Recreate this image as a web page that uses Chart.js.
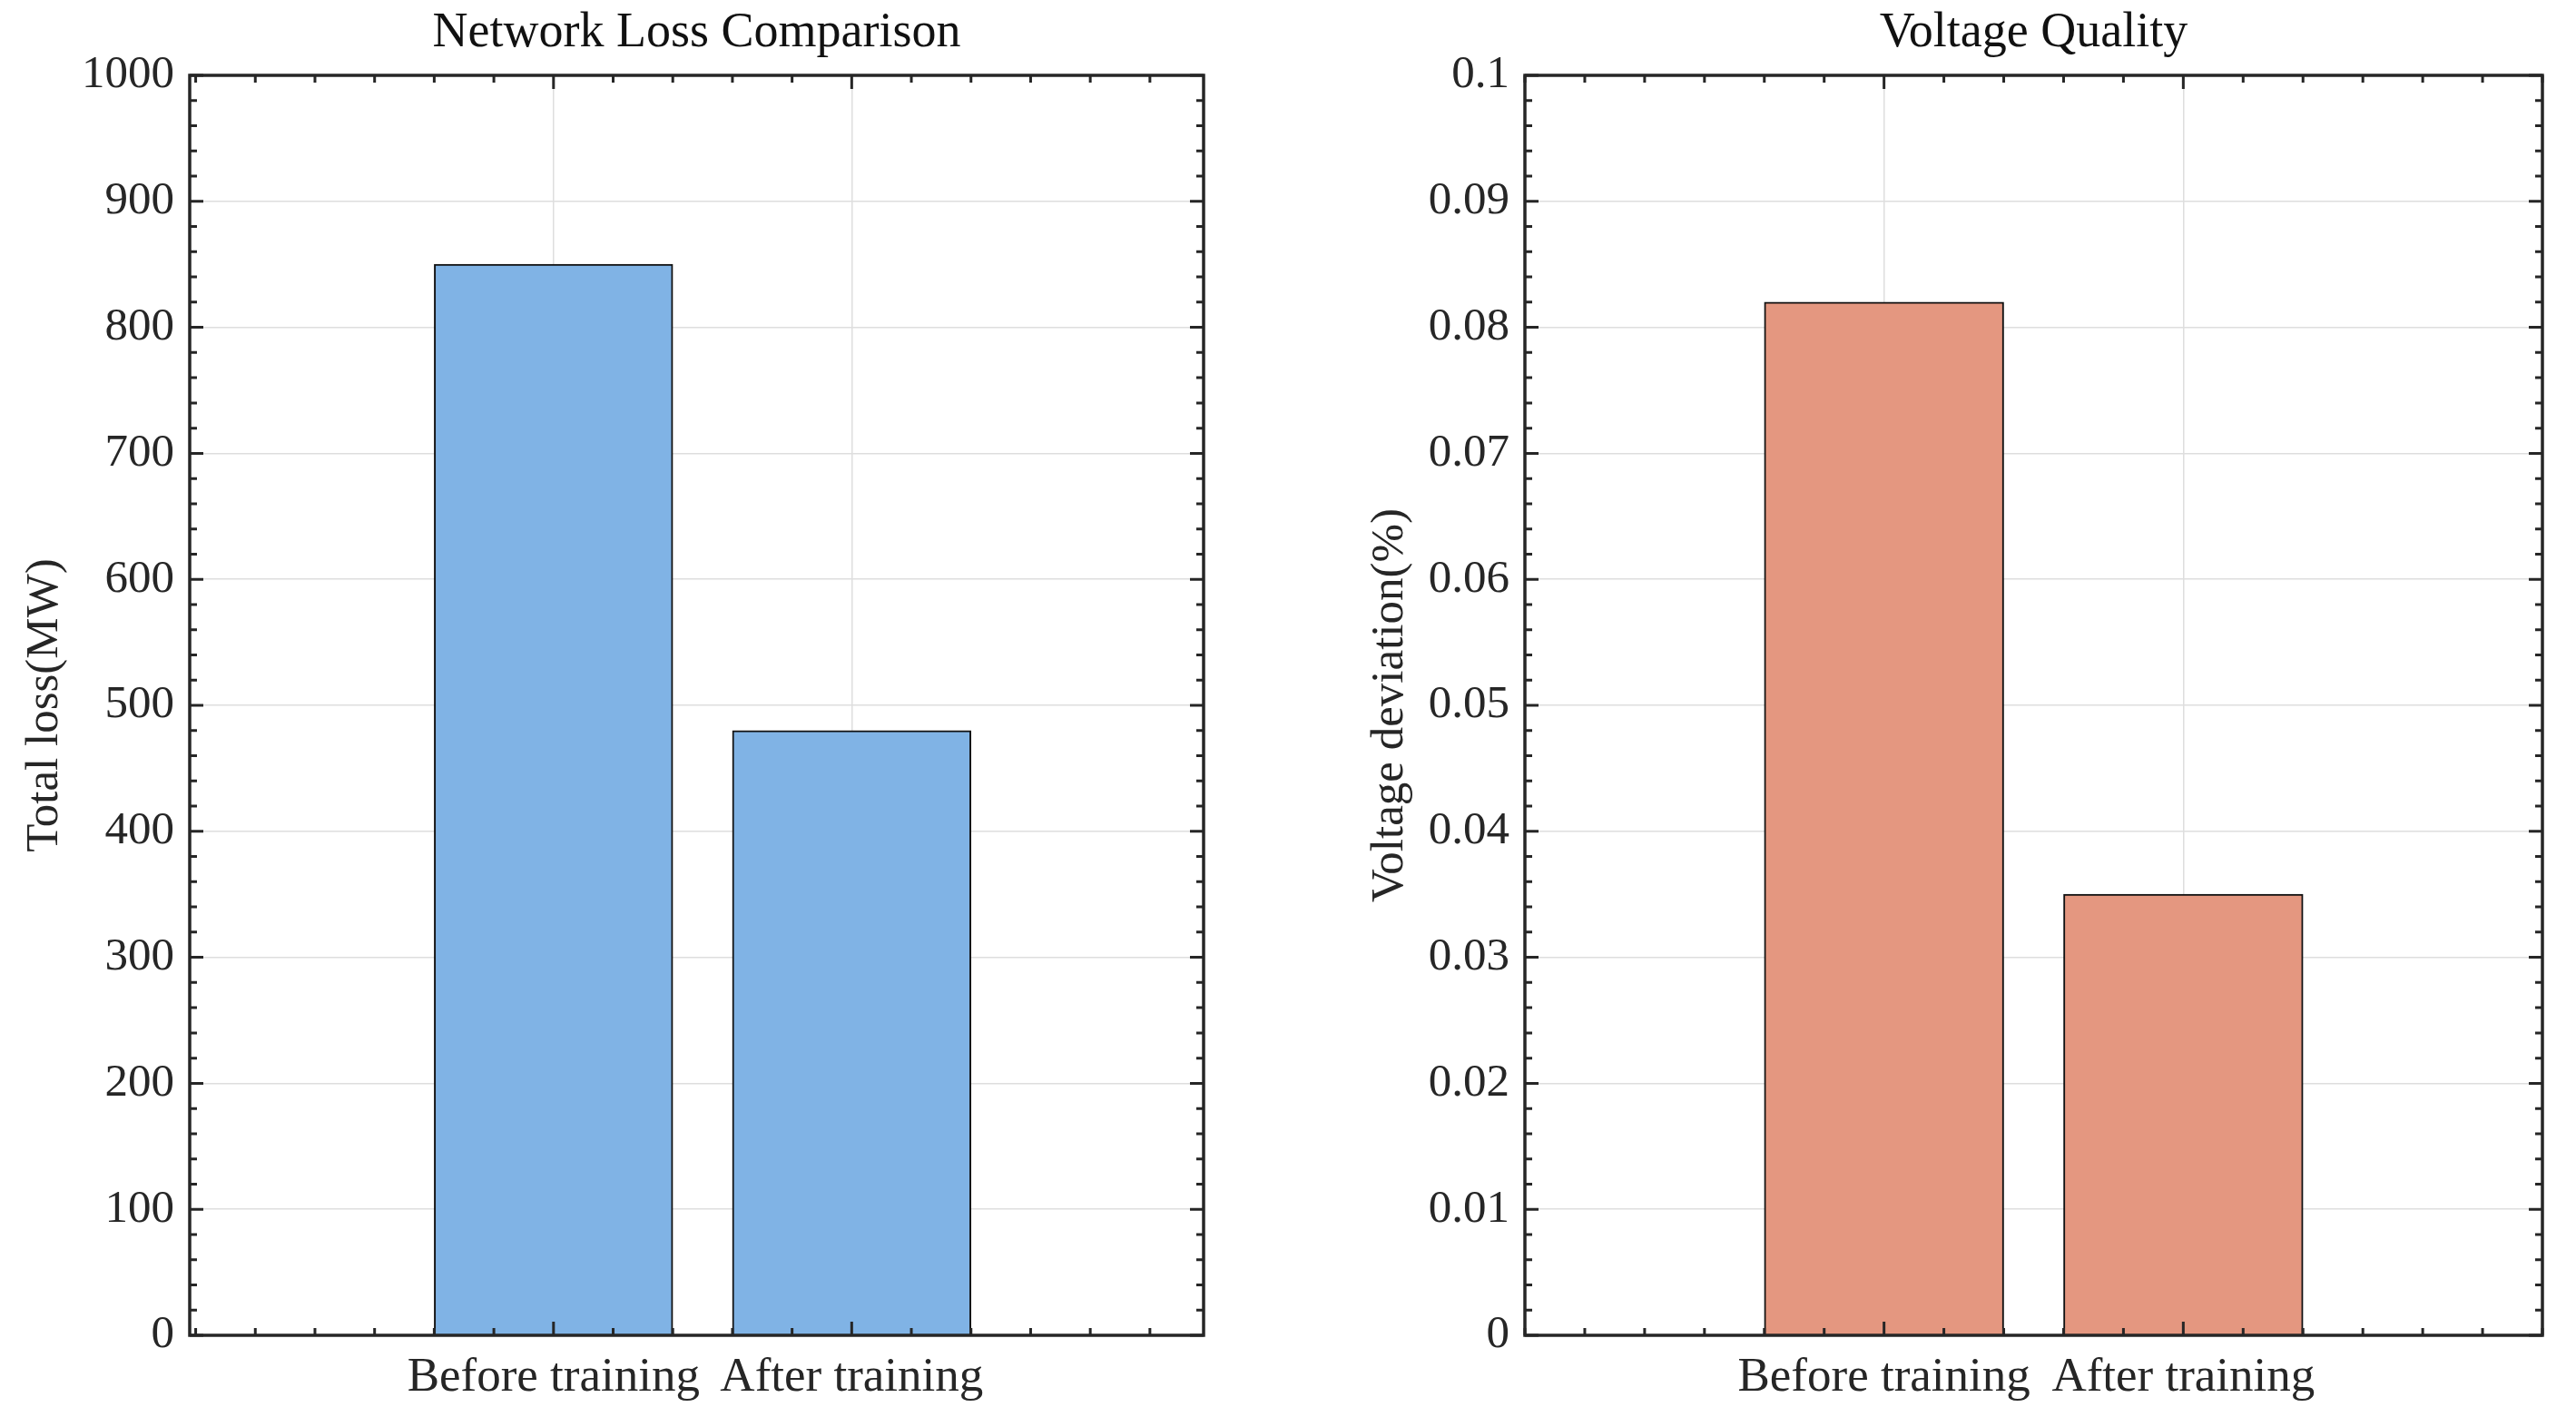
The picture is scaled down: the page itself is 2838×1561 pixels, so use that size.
<!DOCTYPE html>
<html>
<head>
<meta charset="utf-8">
<script src="https://cdn.jsdelivr.net/npm/chart.js@4.4.1/dist/chart.umd.min.js"></script>
<style>
  html, body { margin: 0; padding: 0; background: #ffffff; }
  #wrap { position: relative; width: 2838px; height: 1561px; background: #ffffff; }
  canvas { position: absolute; top: 0; }
</style>
</head>
<body>
<div id="wrap">
  <canvas id="lossChart" width="1419" height="1561" style="left:0px;width:1419px;height:1561px"></canvas>
  <canvas id="voltChart" width="1419" height="1561" style="left:1419px;width:1419px;height:1561px"></canvas>
</div>
<script>
// ---- data ----
const categories = ['Before training', 'After training'];
const categoryPositions = [1, 2];
const lossValues = [850, 480];
const voltageValues = [0.082, 0.035];
const lossTickLabels = ['0', '100', '200', '300', '400', '500', '600', '700', '800', '900', '1000'];
const voltageTickLabels = ['0', '0.01', '0.02', '0.03', '0.04', '0.05', '0.06', '0.07', '0.08', '0.09', '0.1'];

const FONT = "'Liberation Serif', 'DejaVu Serif', serif";
const INK = '#262626';
const GRID = '#dedede';

// inward tick marks + box
const innerTicks = {
  id: 'innerTicks',
  afterDatasetsDraw(chart) {
    const ctx = chart.ctx;
    const {left, right, top, bottom} = chart.chartArea;
    const xs = chart.scales.x, ys = chart.scales.y;
    ctx.save();
    ctx.strokeStyle = INK;
    ctx.lineWidth = 3;
    ctx.beginPath();
    xs.ticks.forEach(t => {
      const px = xs.getPixelForValue(t.value);
      if (px < left - 0.5 || px > right + 0.5) return;
      const len = (t.label && t.label !== '') ? 15 : 8;
      ctx.moveTo(px, bottom); ctx.lineTo(px, bottom - len);
      ctx.moveTo(px, top); ctx.lineTo(px, top + len);
    });
    ys.ticks.forEach(t => {
      const py = ys.getPixelForValue(t.value);
      const len = (t.label && t.label !== '') ? 15 : 8;
      ctx.moveTo(left, py); ctx.lineTo(left + len, py);
      ctx.moveTo(right, py); ctx.lineTo(right - len, py);
    });
    ctx.stroke();
    ctx.lineWidth = 3.5;
    ctx.strokeRect(left, top, right - left, bottom - top);
    ctx.restore();
  }
};

function makeChart(canvasId, opts) {
  const points = categoryPositions.map((x, i) => ({x: x, y: opts.values[i]}));
  return new Chart(document.getElementById(canvasId), {
    type: 'bar',
    data: {
      datasets: [{
        data: points,
        backgroundColor: opts.color,
        borderColor: '#111111',
        borderWidth: 2,
        barThickness: 'flex',
        barPercentage: 0.8,
        categoryPercentage: 1.0
      }]
    },
    plugins: [innerTicks],
    options: {
      responsive: false,
      animation: false,
      devicePixelRatio: 1,
      layout: { padding: { left: 0, right: opts.padRight, top: 0, bottom: 0 } },
      plugins: {
        legend: { display: false },
        tooltip: { enabled: false },
        title: {
          display: true,
          text: opts.title,
          fullSize: false,
          color: '#111111',
          font: { family: FONT, size: 54, weight: 'normal', lineHeight: 1.0 },
          padding: { top: 10, bottom: 19 }
        }
      },
      scales: {
        x: {
          type: 'linear',
          min: opts.xMin,
          max: opts.xMax,
          offset: false,
          afterBuildTicks(scale) {
            const ticks = [];
            for (let k = -1; k <= 16; k++) {
              const v = Math.round(k * 2) / 10;
              if (v >= scale.min - 1e-9 && v <= scale.max + 1e-9) ticks.push({value: v});
            }
            scale.ticks = ticks;
          },
          afterFit(scale) { scale.height = 90; },
          ticks: {
            autoSkip: false,
            maxRotation: 0,
            minRotation: 0,
            padding: 15,
            color: INK,
            font: { family: FONT, size: 53 },
            callback(value) {
              const idx = categoryPositions.findIndex(p => Math.abs(p - value) < 1e-6);
              return idx >= 0 ? categories[idx] : '';
            }
          },
          grid: {
            offset: false,
            drawTicks: false,
            lineWidth: 1.5,
            color(ctx) {
              const v = ctx.tick ? ctx.tick.value : null;
              return categoryPositions.some(p => Math.abs(p - v) < 1e-6) ? GRID : 'rgba(0,0,0,0)';
            }
          },
          border: { display: false }
        },
        y: {
          type: 'linear',
          min: 0,
          max: opts.yMax,
          afterBuildTicks(scale) {
            const ticks = [];
            for (let k = 0; k <= 50; k++) {
              ticks.push({value: Math.round(k * opts.minorStep * 1e6) / 1e6});
            }
            scale.ticks = ticks;
          },
          afterFit(scale) { scale.width = opts.yWidth; },
          ticks: {
            autoSkip: false,
            padding: 17,
            color: INK,
            font: { family: FONT, size: 51 },
            callback(value) {
              const r = value / opts.majorStep;
              const k = Math.round(r);
              return Math.abs(r - k) < 1e-6 ? opts.tickLabels[k] : '';
            }
          },
          grid: {
            drawTicks: false,
            lineWidth: 1.5,
            color(ctx) {
              const v = ctx.tick ? ctx.tick.value : 0;
              const r = v / opts.majorStep;
              return Math.abs(r - Math.round(r)) < 1e-6 ? GRID : 'rgba(0,0,0,0)';
            }
          },
          border: { display: false },
          title: {
            display: true,
            text: opts.yTitle,
            color: INK,
            font: { family: FONT, size: 51, lineHeight: 1.2 },
            padding: { top: opts.yTitlePad, bottom: 0 }
          }
        }
      }
    }
  });
}

makeChart('lossChart', {
  values: lossValues,
  color: '#80b3e5',
  title: 'Network Loss Comparison',
  yTitle: 'Total loss(MW)',
  yMax: 1000,
  majorStep: 100,
  minorStep: 20,
  tickLabels: lossTickLabels,
  xMin: -0.22,
  xMax: 3.18,
  yWidth: 209,
  padRight: 93,
  yTitlePad: 19
});

makeChart('voltChart', {
  values: voltageValues,
  color: '#e49780',
  title: 'Voltage Quality',
  yTitle: 'Voltage deviation(%)',
  yMax: 0.1,
  majorStep: 0.01,
  minorStep: 0.002,
  tickLabels: voltageTickLabels,
  xMin: -0.2,
  xMax: 3.2,
  yWidth: 261,
  padRight: 37,
  yTitlePad: 82
});
</script>
</body>
</html>
